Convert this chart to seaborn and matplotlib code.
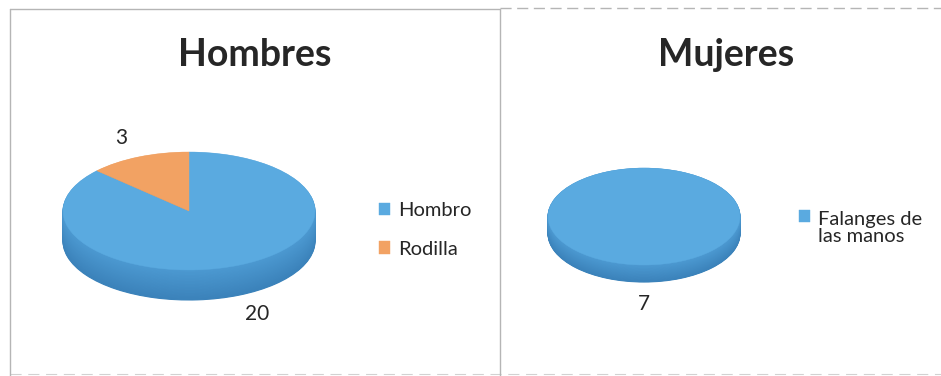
import numpy as np
import pandas as pd
import matplotlib
matplotlib.use("Agg")
import matplotlib.pyplot as plt
import matplotlib.patches as mpatches
import matplotlib.colors as mcolors
from matplotlib.lines import Line2D
from matplotlib.legend_handler import HandlerPatch
import seaborn as sns

# ---- data ----
titles = ["Hombres", "Mujeres"]
hombres_cats = ["Hombro", "Rodilla"]
hombres_vals = [20, 3]
mujeres_cats = ["Falanges de\nlas manos"]
mujeres_vals = [7]

# ---- style ----
sns.set_theme(style="white")
plt.rcParams["font.family"] = ["Lato", "DejaVu Sans"]
TXT = "#262626"
TOP = {"blue": "#5AAAE0", "orange": "#F2A263"}
SIDE_TOP = {"blue": "#4C99D1", "orange": "#D98C4E"}
SIDE_BOT = {"blue": "#3B82BA", "orange": "#C07A40"}

W, H = 941, 376
fig = plt.figure(figsize=(W / 100, H / 100), dpi=100)
fig.patch.set_facecolor("white")


def px_axes(x0, y0, x1, y1):
    return fig.add_axes([x0 / W, 1 - y1 / H, (x1 - x0) / W, (y1 - y0) / H])


def pie3d(ax, vals, keys, thick, nlayers=40):
    for i in range(nlayers, 0, -1):
        f = i / nlayers
        cols = [mcolors.to_hex(
            (1 - f) * np.array(mcolors.to_rgb(SIDE_TOP[k])) + f * np.array(mcolors.to_rgb(SIDE_BOT[k])))
            for k in keys]
        ws, _ = ax.pie(vals, colors=cols, startangle=90, counterclock=False,
                       center=(0, -thick * f), radius=1)
        for wdg, c in zip(ws, cols):
            wdg.set_edgecolor(c)
            wdg.set_linewidth(0.8)
    wedges, _ = ax.pie(vals, colors=[TOP[k] for k in keys], startangle=90,
                       counterclock=False, radius=1)
    for wdg, k in zip(wedges, keys):
        wdg.set_edgecolor(TOP[k])
        wdg.set_linewidth(0.3)
    ax.set_aspect("auto")
    ax.set_xlim(-1, 1)
    ax.set_ylim(-1 - thick, 1)
    ax.axis("off")
    for p in ax.patches:
        p.set_clip_on(False)
    return wedges


def data_labels(ax, wedges, vals, thick, r=1.4, fs=15):
    for w, v in zip(wedges, vals):
        mid = np.deg2rad((w.theta1 + w.theta2) / 2)
        x, y = r * np.cos(mid), r * np.sin(mid)
        if y < 0:
            y -= thick
        ax.text(x, y, str(v), ha="center", va="center", fontsize=fs, color=TXT)


# ---- left panel: Hombres ----
thick_l = 30 / 59
ax1 = px_axes(63, 152, 315, 300)
w1 = pie3d(ax1, hombres_vals, ["blue", "orange"], thick_l)
data_labels(ax1, w1, hombres_vals, thick_l, r=1.35)
leg1 = ax1.legend(w1, hombres_cats, loc="center left",
                  bbox_to_anchor=(379 / W, 1 - 230 / H), bbox_transform=fig.transFigure,
                  frameon=False, fontsize=14.5, handlelength=0.55, handleheight=0.55,
                  handletextpad=0.4, labelspacing=1.05, borderpad=0, borderaxespad=0)
for t in leg1.get_texts():
    t.set_color(TXT)

# ---- right panel: Mujeres ----
thick_r = 17 / 48.5
ax2 = px_axes(548, 168, 740, 282)
w2 = pie3d(ax2, mujeres_vals, ["blue"], thick_r)
data_labels(ax2, w2, mujeres_vals, thick_r, r=1.45)


def top_square(legend, orig_handle, xdescent, ydescent, width, height, fontsize):
    return mpatches.Rectangle((-xdescent, -ydescent + 0.6 * fontsize), width, height)


leg2 = ax2.legend(w2, mujeres_cats, loc="center left",
                  bbox_to_anchor=(799 / W, 1 - 228 / H), bbox_transform=fig.transFigure,
                  frameon=False, fontsize=14.5, handlelength=0.55, handleheight=0.55,
                  handletextpad=0.4, borderpad=0, borderaxespad=0,
                  handler_map={mpatches.Wedge: HandlerPatch(patch_func=top_square)})
for t in leg2.get_texts():
    t.set_color(TXT)
    t.set_linespacing(1.05)

# ---- titles ----
fig.text(255 / W, 1 - 55 / H, titles[0], ha="center", va="center",
         fontsize=27, fontweight="bold", color=TXT)
fig.text(726 / W, 1 - 55 / H, titles[1], ha="center", va="center",
         fontsize=27, fontweight="bold", color=TXT)

# ---- panel borders ----
bc = "#b5b5b5"
def fline(x0, y0, x1, y1, **kw):
    fig.add_artist(Line2D([x0 / W, x1 / W], [1 - y0 / H, 1 - y1 / H],
                          transform=fig.transFigure, color=bc, **kw))

fline(10, 9, 500, 9, lw=1.0)
fline(10, 9, 10, 376, lw=1.0)
fline(500, 9, 500, 376, lw=1.0)
fline(500, 8, 941, 8, lw=1.0, ls=(0, (8, 4)))
fline(10, 374, 941, 374, lw=0.8, ls=(0, (10, 6)), alpha=0.6)

fig.savefig("out.png", dpi=100, facecolor="white")
